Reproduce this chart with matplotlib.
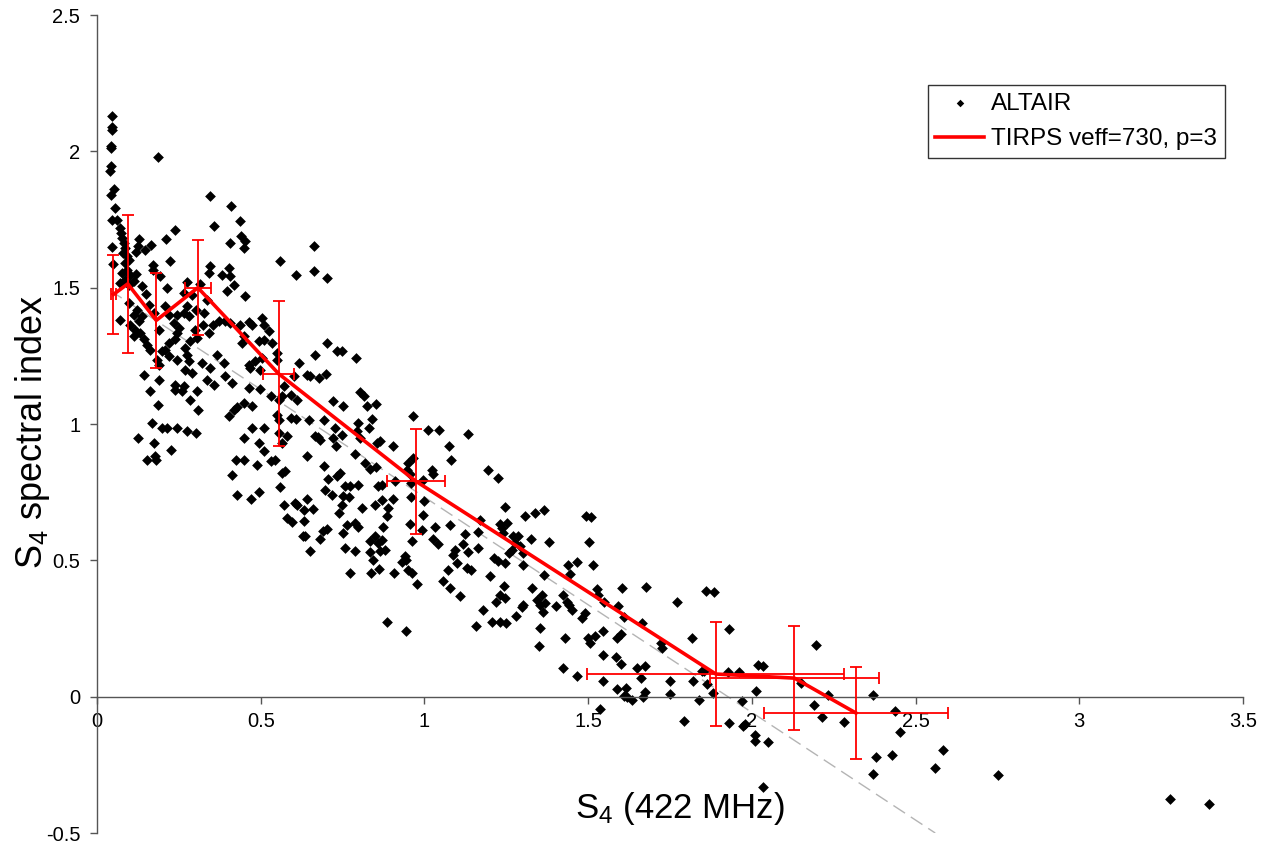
import matplotlib

matplotlib.use("Agg")
import matplotlib.pyplot as plt
from matplotlib.ticker import FuncFormatter, MultipleLocator

plt.rcParams["font.family"] = ["Liberation Sans", "DejaVu Sans"]
plt.rcParams["mathtext.fontset"] = "custom"
plt.rcParams["mathtext.rm"] = "Liberation Sans"
plt.rcParams["mathtext.default"] = "regular"

alt_s4 = [
    # upper-left cluster
    0.046, 0.046, 0.046, 0.044, 0.044, 0.185, 0.044, 0.041, 0.051, 0.044,
    0.056, 0.346, 0.409, 0.358, 0.438, 0.440, 0.453, 0.448, 0.405, 0.238,
    0.211, 0.166, 0.148, 0.127, 0.124, 0.120, 0.046, 0.061, 0.069, 0.073,
    0.076, 0.081, 0.087, 0.079, 0.092, 0.087, 0.097, 0.046, 0.049, 0.092,
    0.076, 0.102, 0.087, 0.071, 0.112, 0.097, 0.120, 0.170, 0.171, 0.193,
    0.224, 0.214, 0.137, 0.151, 0.346, 0.341, 0.382, 0.402, 0.405, 0.419,
    0.397, 0.275, 0.316, 0.267, 0.290, 0.453, 0.558, 0.609, 0.662, 0.662,
    0.702, 0.702, 0.732, 0.747, 0.790, 0.679, 0.698, 0.804, 0.814,
    # 0 < S4 < 0.7, index 0.8 - 1.45
    0.071, 0.102, 0.112, 0.122, 0.137, 0.127, 0.117, 0.132, 0.112, 0.143,
    0.153, 0.163, 0.158, 0.097, 0.173, 0.188, 0.209, 0.219, 0.244, 0.234,
    0.249, 0.265, 0.275, 0.303, 0.280, 0.244, 0.239, 0.219, 0.209, 0.199,
    0.219, 0.244, 0.183, 0.188, 0.270, 0.275, 0.280, 0.270, 0.290, 0.285,
    0.300, 0.306, 0.324, 0.341, 0.354, 0.372, 0.392, 0.407, 0.326, 0.336,
    0.321, 0.346, 0.367, 0.387, 0.392, 0.336, 0.356, 0.143, 0.188, 0.163,
    0.239, 0.265, 0.239, 0.260, 0.306, 0.285, 0.185, 0.309, 0.412, 0.438,
    0.463, 0.473, 0.448, 0.504, 0.509, 0.524, 0.494, 0.509, 0.443, 0.535,
    0.463, 0.484, 0.504, 0.499, 0.468, 0.616, 0.667, 0.550, 0.550, 0.642,
    0.652, 0.601, 0.463, 0.499, 0.570, 0.565, 0.591, 0.611, 0.530, 0.555,
    0.428, 0.448, 0.473, 0.418, 0.402, 0.550, 0.555, 0.591, 0.609, 0.647,
    0.473, 0.509, 0.448, 0.494, 0.555, 0.580, 0.565, 0.667, 0.509, 0.642,
    0.423, 0.448, 0.489, 0.530, 0.545, 0.412, 0.565, 0.575, 0.168, 0.199,
    0.214, 0.244, 0.275, 0.303, 0.124, 0.175, 0.226, 0.153, 0.178, 0.181,
    0.428, 0.470, 0.494, 0.560, 0.570, 0.606, 0.611, 0.640, 0.633, 0.660,
    0.580, 0.596, 0.633, 0.629, 0.636, 0.652,
    # 0.65 < S4 < 1.35
    0.722, 0.752, 0.824, 0.852, 0.966, 0.839, 0.798, 0.830, 0.693, 0.727,
    0.747, 0.793, 0.804, 0.676, 0.681, 0.722, 0.730, 0.854, 0.864, 0.905,
    1.010, 1.043, 1.134, 1.076, 1.081, 0.966, 0.951, 0.692, 0.788, 0.819,
    0.834, 0.853, 0.946, 0.956, 1.022, 1.026, 0.997, 0.910, 0.859, 0.869,
    0.742, 0.732, 0.707, 0.757, 0.772, 0.798, 0.696, 0.717, 0.750, 0.770,
    0.747, 0.808, 0.849, 0.869, 0.890, 0.887, 0.904, 0.959, 0.959, 1.000,
    0.997, 0.956, 0.992, 0.961, 0.738, 0.763, 0.788, 0.798, 0.751, 0.702,
    0.691, 0.681, 0.757, 0.788, 0.834, 0.849, 0.859, 0.869, 0.880, 0.864,
    0.834, 0.874, 0.844, 0.773, 0.837, 0.862, 0.907, 0.931, 0.941, 0.944,
    0.951, 0.961, 0.978, 1.027, 1.041, 1.033, 1.078, 1.119, 1.124, 1.093,
    1.088, 1.134, 1.165, 1.098, 1.129, 1.141, 1.073, 1.058, 1.078, 1.109,
    1.231, 1.243, 1.200, 1.165, 1.170, 1.195, 1.226, 1.246, 1.231, 1.252,
    1.236, 1.241, 1.272, 1.287, 1.277, 1.292, 1.267, 1.257, 1.307, 1.300,
    1.211, 1.226, 1.246, 1.300, 1.330, 1.246,
    0.887, 0.944, 1.180, 1.219, 1.158, 1.206, 1.231, 1.249, 1.280, 1.297,
    1.302,
    # 1.3 < S4 < 1.9
    1.338, 1.366, 1.494, 1.509, 1.326, 1.381, 1.504, 1.440, 1.467, 1.446,
    1.514, 1.365, 1.358, 1.343, 1.353, 1.368, 1.402, 1.424, 1.434, 1.450,
    1.443, 1.363, 1.491, 1.528, 1.531, 1.548, 1.590, 1.604, 1.677, 1.610,
    1.771, 1.859, 1.884,
    1.480, 1.353, 1.351, 1.429, 1.424, 1.465, 1.499, 1.506, 1.521, 1.546,
    1.589, 1.600, 1.546, 1.585, 1.599, 1.545, 1.589, 1.616, 1.610, 1.618,
    1.635, 1.648, 1.661, 1.674, 1.674, 1.668, 1.664, 1.723, 1.725, 1.816,
    1.750, 1.750, 1.820, 1.840, 1.847, 1.854, 1.862, 1.882, 1.929, 1.928,
    1.962, 1.971, 2.013, 2.020, 1.536, 1.794, 1.931, 1.974, 1.979, 2.010,
    2.010,
    # tail
    2.035, 2.050, 2.196, 2.150, 2.234, 2.190, 2.213, 2.282, 2.369, 2.437,
    2.453, 2.379, 2.427, 2.585, 2.753, 3.277, 3.397, 2.370, 2.560, 2.035,
]
alt_index = [
    2.128, 2.089, 2.079, 2.018, 2.012, 1.981, 1.945, 1.929, 1.862, 1.841,
    1.794, 1.835, 1.800, 1.727, 1.745, 1.690, 1.670, 1.645, 1.664, 1.712,
    1.678, 1.657, 1.639, 1.678, 1.652, 1.629, 1.749, 1.749, 1.719, 1.700,
    1.683, 1.664, 1.646, 1.627, 1.615, 1.590, 1.603, 1.648, 1.588, 1.566,
    1.554, 1.548, 1.529, 1.517, 1.523, 1.511, 1.551, 1.584, 1.566, 1.541,
    1.597, 1.499, 1.505, 1.477, 1.578, 1.554, 1.548, 1.572, 1.542, 1.508,
    1.486, 1.520, 1.515, 1.481, 1.474, 1.471, 1.599, 1.548, 1.652, 1.560,
    1.534, 1.297, 1.269, 1.269, 1.242, 1.169, 1.185, 1.116, 1.104,
    1.380, 1.364, 1.401, 1.419, 1.395, 1.377, 1.346, 1.334, 1.321, 1.310,
    1.291, 1.272, 1.438, 1.444, 1.407, 1.346, 1.431, 1.401, 1.401, 1.370,
    1.352, 1.407, 1.431, 1.419, 1.395, 1.334, 1.310, 1.297, 1.272, 1.266,
    1.248, 1.236, 1.236, 1.217, 1.279, 1.254, 1.230, 1.199, 1.187, 1.303,
    1.346, 1.315, 1.364, 1.334, 1.364, 1.377, 1.377, 1.370, 1.407, 1.456,
    1.224, 1.205, 1.254, 1.224, 1.175, 1.162, 1.144, 1.181, 1.162, 1.120,
    1.144, 1.138, 1.126, 1.120, 1.120, 1.089, 1.071, 1.052, 1.150, 1.364,
    1.373, 1.364, 1.321, 1.389, 1.364, 1.340, 1.303, 1.309, 1.297, 1.297,
    1.217, 1.230, 1.242, 1.199, 1.205, 1.224, 1.254, 1.260, 1.236, 1.181,
    1.175, 1.175, 1.132, 1.129, 1.138, 1.101, 1.107, 1.089, 1.101, 1.089,
    1.064, 1.077, 1.067, 1.052, 1.030, 1.034, 1.016, 1.022, 1.018, 1.016,
    0.985, 0.985, 0.949, 0.930, 0.967, 0.955, 0.930, 0.955, 0.900, 0.881,
    0.869, 0.869, 0.850, 0.863, 0.869, 0.814, 0.820, 0.826, 1.003, 0.985,
    0.985, 0.985, 0.973, 0.967, 0.949, 0.930, 0.906, 0.869, 0.881, 0.869,
    0.738, 0.724, 0.752, 0.768, 0.704, 0.710, 0.704, 0.724, 0.686, 0.688,
    0.655, 0.639, 0.645, 0.590, 0.588, 0.533,
    1.083, 1.065, 1.065, 1.073, 1.030, 1.018, 1.004, 0.985, 1.016, 0.985,
    0.961, 0.973, 0.949, 0.954, 0.942, 0.949, 0.918, 0.930, 0.936, 0.918,
    0.979, 0.977, 0.964, 0.918, 0.869, 0.875, 0.857, 0.847, 0.891, 0.857,
    0.835, 0.842, 0.830, 0.817, 0.832, 0.817, 0.796, 0.790, 0.774, 0.776,
    0.820, 0.808, 0.799, 0.771, 0.774, 0.776, 0.759, 0.741, 0.737, 0.732,
    0.704, 0.692, 0.704, 0.722, 0.692, 0.661, 0.724, 0.784, 0.732, 0.716,
    0.667, 0.634, 0.612, 0.572, 0.673, 0.628, 0.637, 0.624, 0.600, 0.615,
    0.607, 0.578, 0.545, 0.533, 0.570, 0.588, 0.563, 0.576, 0.539, 0.533,
    0.529, 0.624, 0.502, 0.454, 0.454, 0.468, 0.454, 0.493, 0.515, 0.502,
    0.466, 0.454, 0.414, 0.578, 0.561, 0.624, 0.630, 0.561, 0.595, 0.539,
    0.521, 0.529, 0.545, 0.490, 0.472, 0.466, 0.466, 0.423, 0.399, 0.368,
    0.374, 0.405, 0.441, 0.605, 0.649, 0.832, 0.802, 0.695, 0.634, 0.637,
    0.618, 0.600, 0.590, 0.588, 0.563, 0.551, 0.539, 0.527, 0.661, 0.527,
    0.508, 0.496, 0.490, 0.484, 0.399, 0.362,
    0.274, 0.240, 0.317, 0.347, 0.260, 0.274, 0.274, 0.270, 0.297, 0.329,
    0.337,
    0.674, 0.683, 0.663, 0.658, 0.578, 0.566, 0.567, 0.484, 0.494, 0.450,
    0.484, 0.447, 0.374, 0.354, 0.338, 0.342, 0.331, 0.374, 0.346, 0.319,
    0.335, 0.310, 0.306, 0.395, 0.374, 0.346, 0.331, 0.397, 0.404, 0.292,
    0.346, 0.387, 0.383,
    0.288, 0.252, 0.185, 0.215, 0.105, 0.077, 0.215, 0.196, 0.221, 0.240,
    0.215, 0.230, 0.154, 0.146, 0.120, 0.059, 0.028, 0.032, 0.004, -0.002,
    -0.011, 0.104, 0.068, 0.114, 0.016, -0.001, 0.270, 0.197, 0.179, 0.215,
    0.056, 0.010, 0.059, -0.014, 0.095, 0.095, 0.048, 0.014, 0.248, 0.091,
    0.091, -0.015, 0.019, 0.117, -0.045, -0.090, -0.095, -0.109, -0.100, -0.139,
    -0.163,
    0.114, -0.167, 0.190, 0.050, 0.007, -0.029, -0.075, -0.094, 0.007, -0.054,
    -0.130, -0.221, -0.215, -0.194, -0.289, -0.374, -0.393, -0.285, -0.260, -0.330,
]

# TIRPS model (veff=730, p=3): binned values with error bars
tirps_s4 = [0.050, 0.094, 0.181, 0.308, 0.555, 0.974, 1.890, 2.130, 2.318]
tirps_index = [1.475, 1.514, 1.380, 1.500, 1.184, 0.790, 0.083, 0.068, -0.060]
tirps_xerr = [0.008, 0.0, 0.0, 0.040, 0.048, 0.088, 0.392, 0.257, 0.280]
tirps_yerr = [0.145, 0.254, 0.175, 0.173, 0.266, 0.193, 0.191, 0.192, 0.170]

# linear trend of the ALTAIR points (grey dashed)
trend_s4 = [0.04, 2.56]
trend_index = [1.490, -0.500]

fig = plt.figure(figsize=(12.71, 8.46), dpi=100)
ax = fig.add_axes([97 / 1271, 1 - 833 / 846, (1243 - 97) / 1271, (833 - 15) / 846])

ax.plot(trend_s4, trend_index, color="#b4b4b4", lw=1.0, dashes=(10, 5), zorder=1)
ax.scatter(alt_s4, alt_index, marker="D", s=30, color="black", lw=0, zorder=2,
           label="ALTAIR")
ax.errorbar(tirps_s4, tirps_index, xerr=tirps_xerr, yerr=tirps_yerr, fmt="none",
            ecolor="#ff0000", elinewidth=1.3, capsize=4.5, capthick=1.3, zorder=3)
ax.plot(tirps_s4, tirps_index, color="#ff0000", lw=2.6, zorder=4,
        label="TIRPS veff=730, p=3")

ax.set_xlim(0, 3.5)
ax.set_ylim(-0.5, 2.5)
ax.xaxis.set_major_locator(MultipleLocator(0.5))
ax.yaxis.set_major_locator(MultipleLocator(0.5))
fmt = FuncFormatter(lambda v, _: f"{v:g}")
ax.xaxis.set_major_formatter(fmt)
ax.yaxis.set_major_formatter(fmt)

for side in ("top", "right"):
    ax.spines[side].set_visible(False)
ax.spines["bottom"].set_position(("data", 0))
for side in ("left", "bottom"):
    ax.spines[side].set_color("#555555")
    ax.spines[side].set_linewidth(1.0)
ax.tick_params(direction="out", length=5, width=1, color="#555555",
               labelsize=14.5, labelcolor="black")
ax.tick_params(axis="x", pad=6)
ax.tick_params(axis="y", pad=7)

fig.text(680 / 1271, 1 - 808 / 846, "S$_4$ (422 MHz)", fontsize=25,
         ha="center", va="center")
fig.text(33 / 1271, 1 - 432 / 846, "S$_4$ spectral index", fontsize=26,
         rotation=90, ha="center", va="center")

leg = ax.legend(loc="upper right", bbox_to_anchor=(1225 / 1271, 1 - 85 / 846),
                bbox_transform=fig.transFigure, borderaxespad=0, fontsize=17.5,
                frameon=True, fancybox=False, edgecolor="black",
                handlelength=2.0, markerscale=0.7, borderpad=0.32,
                labelspacing=0.55, handletextpad=0.3)
leg.get_frame().set_linewidth(1.0)

fig.savefig("out.png", dpi=100)
